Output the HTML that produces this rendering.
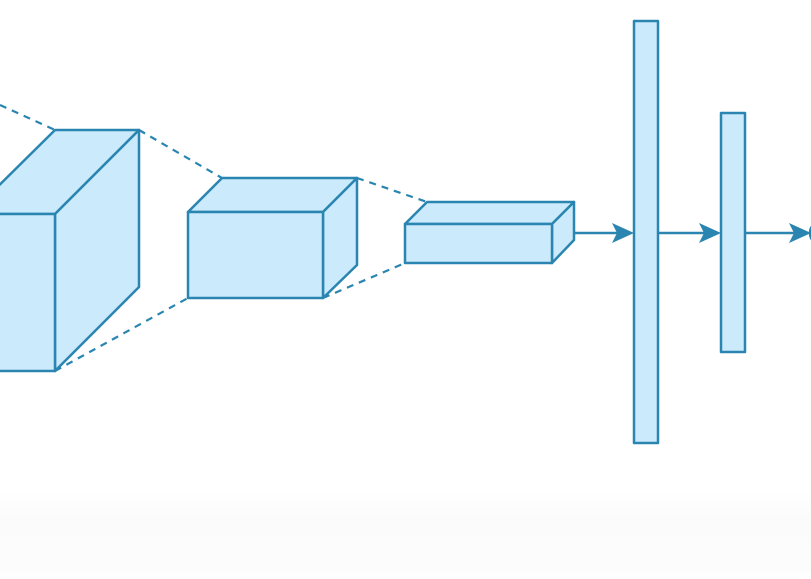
<!DOCTYPE html>
<html><head><meta charset="utf-8"><style>
html,body{margin:0;padding:0;background:#fff;}
body{width:811px;height:579px;overflow:hidden;position:relative;}
.band{position:absolute;left:0;top:492px;width:811px;height:87px;background:linear-gradient(#fff,#fbfbfb 30%,#fcfcfc 90%,#fff);}
svg{position:absolute;left:0;top:0;}
</style></head><body>
<div class="band"></div>
<svg width="811" height="579" viewBox="0 0 811 579">
<g stroke="#2a85b0" stroke-width="2.2" fill="none" stroke-dasharray="7,6">
<line x1="0" y1="105" x2="55" y2="130"/>
<line x1="139" y1="130" x2="222" y2="178"/>
<line x1="357" y1="178" x2="427" y2="202"/>
<line x1="55" y1="371" x2="188" y2="298"/>
<line x1="323" y1="298" x2="405" y2="263"/>
</g>
<g stroke="#2a85b0" stroke-width="2.5" fill="#cbeafc" stroke-linejoin="round">
<polygon points="-30,214 55,130 139,130 55,214"/>
<polygon points="55,214 139,130 139,287 55,371"/>
<rect x="-10" y="214" width="65" height="157"/>
<polygon points="188,212 222,178 357,178 323,212"/>
<polygon points="323,212 357,178 357,265 323,298"/>
<rect x="188" y="212" width="135" height="86"/>
<polygon points="405,224 427,202 574,202 552,224"/>
<polygon points="552,224 574,202 574,240 552,263"/>
<rect x="405" y="224" width="147" height="39"/>
<rect x="634" y="21" width="24" height="422"/>
<rect x="721" y="113" width="24" height="239"/>
<circle cx="822" cy="233" r="12"/>
</g>
<g stroke="#2a85b0" stroke-width="2.5">
<line x1="574" y1="233" x2="620" y2="233"/>
<line x1="658" y1="233" x2="708" y2="233"/>
<line x1="745" y1="233" x2="798" y2="233"/>
</g>
<g fill="#2a85b0">
<path d="M612,223 L634,233 L612,243 L617,233 Z"/>
<path d="M699,223 L721,233 L699,243 L704,233 Z"/>
<path d="M789,223 L811,233 L789,243 L794,233 Z"/>
</g>
</svg>
</body></html>
